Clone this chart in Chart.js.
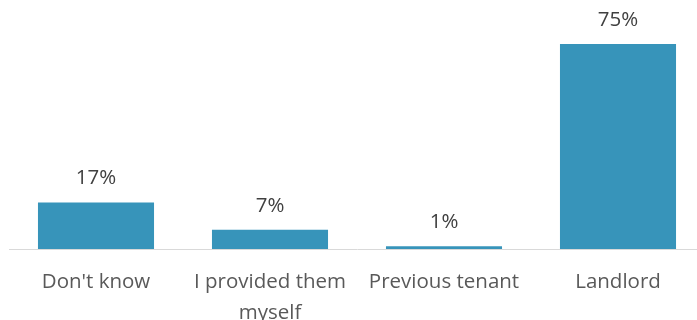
<!DOCTYPE html>
<html><head><meta charset="utf-8">
<script src="https://cdn.jsdelivr.net/npm/chart.js@4"></script>
<style>html,body{margin:0;padding:0;overflow:hidden;background:#fff}#w{width:710px;height:320px}</style>
</head><body><div id="w"><canvas id="c" width="710" height="320"></canvas></div>
<script>
const categories = [["Don't know"], ["I provided them", "myself"], ["Previous tenant"], ["Landlord"]];
const values = [17, 7, 1, 75];
const valueLabels = ["17%", "7%", "1%", "75%"];

const FONT = "'Open Sans', sans-serif";
const valuePlugin = {
  id: 'valueLabels',
  afterDatasetsDraw(chart) {
    const ctx = chart.ctx;
    const meta = chart.getDatasetMeta(0);
    ctx.save();
    ctx.font = "20.5px " + FONT;
    ctx.fillStyle = '#404040';
    ctx.textAlign = 'center';
    ctx.textBaseline = 'middle';
    meta.data.forEach((bar, i) => {
      ctx.fillText(valueLabels[i], bar.x, bar.y - 24);
    });
    ctx.restore();
  }
};

new Chart(document.getElementById('c'), {
  type: 'bar',
  data: { labels: categories, datasets: [{ data: values, backgroundColor: '#3794BA', borderWidth: 0,
    barPercentage: 0.667, categoryPercentage: 1 }] },
  options: {
    responsive: false, animation: false,
    layout: { padding: { left: 9, right: 5, top: 3, bottom: 0 } },
    plugins: { legend: { display: false }, tooltip: { enabled: false } },
    scales: {
      y: { display: false, min: 0, max: 90 },
      x: {
        grid: { display: false, drawTicks: false },
        border: { display: true, color: '#D9D9D9', width: 1 },
        ticks: { color: '#595959', font: { family: FONT, size: 20.5, lineHeight: 1.5 }, padding: 18, maxRotation: 0, autoSkip: false },
        afterFit(scale) { scale.height = 71; }
      }
    }
  },
  plugins: [valuePlugin]
});
</script></body></html>
